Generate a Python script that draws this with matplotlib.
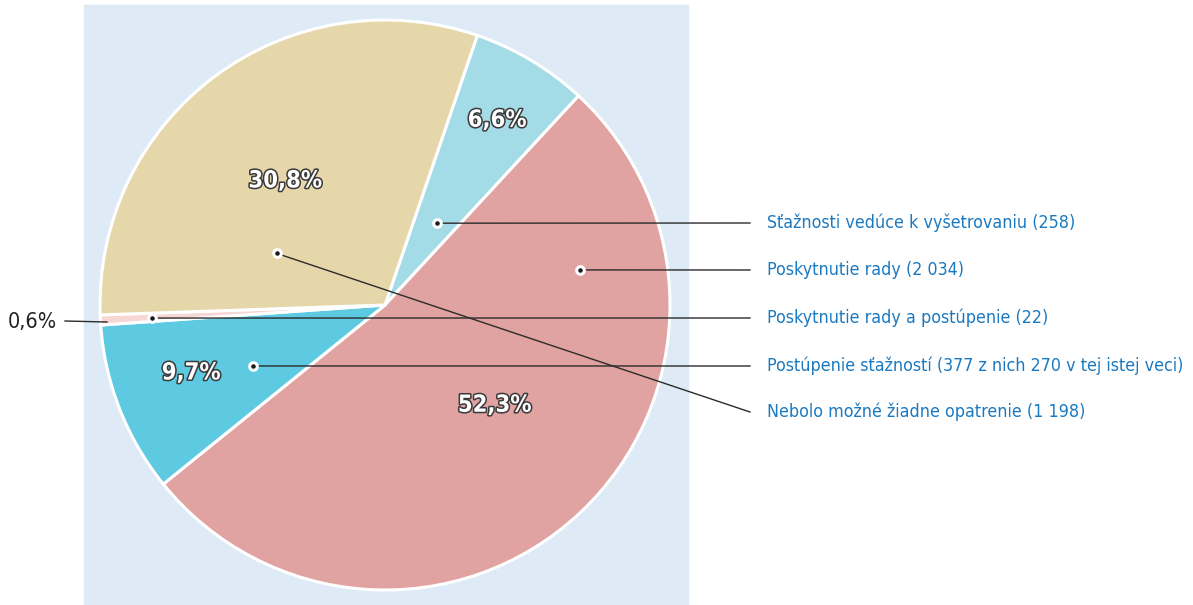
"""Pie chart: handling of complaints (Slovak labels)."""

import matplotlib.pyplot as plt
import matplotlib.patheffects as pe
from matplotlib.patches import Rectangle
import numpy as np

# legend order
labels = [
    "Sťažnosti vedúce k vyšetrovaniu (258)",
    "Poskytnutie rady (2 034)",
    "Poskytnutie rady a postúpenie (22)",
    "Postúpenie sťažností (377 z nich 270 v tej istej veci)",
    "Nebolo možné žiadne opatrenie (1 198)",
]
counts = [258, 2034, 22, 377, 1198]
pct_labels = ["6,6%", "52,3%", "0,6%", "9,7%", "30,8%"]
colors = ["#a3dbe6", "#e0a3a1", "#f6d7d4", "#5ecae2", "#e5d7a9"]

# clockwise order of slices around the pie
pie_order = [0, 1, 3, 2, 4]

plt.rcParams["font.family"] = ["DejaVu Sans"]
plt.rcParams["font.stretch"] = "condensed"

W, H = 1193, 605
fig = plt.figure(figsize=(W / 100, H / 100), dpi=100)
ax = fig.add_axes([0, 0, 1, 1])

ax.add_patch(Rectangle((84, 0), 604, 600, color="#deeaf6", zorder=0))

cx, cy, R = 385, 300, 285
wedges, _ = ax.pie(
    [counts[i] for i in pie_order],
    colors=[colors[i] for i in pie_order],
    startangle=71.1,
    counterclock=False,
    center=(cx, cy),
    radius=R,
    wedgeprops=dict(edgecolor="white", linewidth=2.2),
    frame=True,
)
ax.set_xlim(0, W)
ax.set_ylim(0, H)
ax.set_aspect("equal")
ax.axis("off")


def polar(angle, frac):
    a = np.deg2rad(angle)
    return cx + frac * R * np.cos(a), cy + frac * R * np.sin(a)


# dot anchors (angle, radius fraction) and percent label radius per legend item
dot_pos = [(57.6, 0.34), (10.2, 0.695), (-176.8, 0.82), (-155.2, 0.51), (154.5, 0.42)]
pct_pos = [(58.8, 0.76), (-42.3, 0.52), None, (-160.8, 0.72), (128.7, 0.56)]
label_y = [382, 335, 287, 239, 193]
line_x, text_x = 750, 767

stroke = [pe.withStroke(linewidth=2.2, foreground="#3a3a3a")]
for i, lab in enumerate(labels):
    dx, dy = polar(*dot_pos[i])
    ax.plot([dx, line_x], [dy, label_y[i]], color="#2b2b2b", lw=1, zorder=3)
    ax.plot(dx, dy, "o", ms=5.5, mfc="#1a1a1a", mec="white", mew=2.2, zorder=4)
    ax.text(text_x, label_y[i], lab, color="#1b79c0", fontsize=12.8,
            va="center", ha="left")
    if pct_pos[i] is not None:
        px, py = polar(*pct_pos[i])
        ax.text(px, py, pct_labels[i], color="white", fontsize=17,
                fontweight="bold", ha="center", va="center",
                path_effects=stroke, zorder=5)

# small slice labelled outside
ax.plot([65, 107], [284, 283], color="#2b2b2b", lw=1)
ax.text(57, 283, pct_labels[2], color="#222222", fontsize=15.5, ha="right", va="center")

fig.savefig("out.png", dpi=100)
